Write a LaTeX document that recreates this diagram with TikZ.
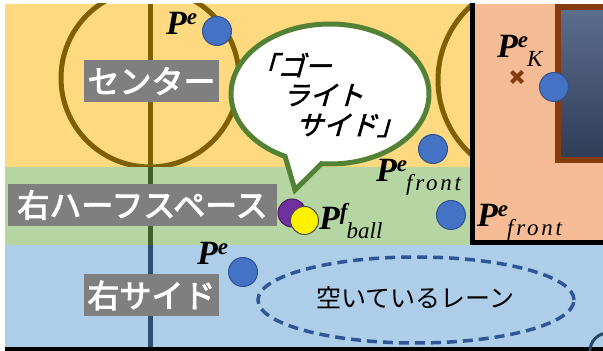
\documentclass[tikz,border=0pt]{standalone}
\usepackage{fontspec}
\newfontfamily\jpfont{Noto Sans CJK JP}
\newfontfamily\jpzone[FakeBold=3]{Noto Sans CJK JP}
\newfontfamily\jpslant[FakeSlant=0.28, FakeBold=2]{Noto Sans CJK JP}
\newfontfamily\tmsfont{Liberation Serif}
\definecolor{fyellow}{HTML}{FFD97F}
\definecolor{fgreen}{HTML}{B5D6A3}
\definecolor{fblue}{HTML}{ADCDE9}
\definecolor{forange}{HTML}{F5BB95}
\definecolor{lbrown}{HTML}{7F6000}
\definecolor{lgreen}{HTML}{3F5E2A}
\definecolor{lblue}{HTML}{2E4E6E}
\definecolor{goalbrown}{HTML}{843C0C}
\definecolor{goaltop}{HTML}{5D6E8E}
\definecolor{goalbot}{HTML}{2F3C56}
\definecolor{dotblue}{HTML}{4472C4}
\definecolor{dotedge}{HTML}{2F528F}
\definecolor{bubgreen}{HTML}{548235}
\definecolor{lanedash}{HTML}{2F5597}
\definecolor{zonegray}{HTML}{7F7F7F}
\definecolor{ppurple}{HTML}{7030A0}
\newcommand{\pname}[2]{{\tmsfont\itshape\fontsize{34}{34}\selectfont\bfseries P\raisebox{10pt}{\fontsize{23}{23}\selectfont #1}\kern-1pt\raisebox{-9pt}{\mdseries\fontsize{23}{23}\selectfont #2}}}
\tikzset{
  zone/.style={fill=zonegray, text=white, inner sep=0pt, minimum height=42pt,
    font=\jpzone\fontsize{32}{32}\selectfont},
  fieldline/.style={line width=5pt},
  player/.style={circle, fill=dotblue, draw=dotedge, line width=1pt, minimum size=29pt, inner sep=0pt},
  lbl/.style={anchor=base west, inner sep=0pt},
  bubble/.style={fill=white, draw=bubgreen, line width=5pt, line join=miter},
  bubtext/.style={inner sep=0pt, font=\jpslant\fontsize{27}{27}\selectfont},
  crossline/.style={draw=goalbrown, line width=4pt},
}
\begin{document}
\begin{tikzpicture}[x=1pt,y=1pt]
\useasboundingbox (0,0) rectangle (603,351);
\fill[white] (0,0) rectangle (603,351);
\begin{scope}
  \clip (5,0) rectangle (603,347);
  % bands
  \fill[fyellow] (5,184) rectangle (603,347);
  \fill[fgreen] (5,106) rectangle (603,184);
  \fill[fblue] (5,3.5) rectangle (603,106);
  \fill[black] (5,0) rectangle (603,3.5);
  % centre line
  \draw[fieldline, lbrown] (150.5,347) -- (150.5,184);
  \draw[fieldline, lgreen] (150.5,184) -- (150.5,106);
  \draw[fieldline, lblue] (150.5,106) -- (150.5,3.5);
  % centre circle and penalty arc
  \begin{scope}
    \clip (5,184) rectangle (470,347);
    \draw[fieldline, lbrown] (150,273) circle[radius=89];
    \draw[fieldline, lbrown] (538,271) circle[radius=100];
  \end{scope}
  % corner arc
  \draw[line width=3pt, lblue!90!black] (590,0) arc[start angle=180, end angle=90, radius=18];
  % penalty box
  \fill[forange] (472.5,108.5) rectangle (603,347);
  \draw[line width=5pt, black] (472.5,350) -- (472.5,108.5) -- (606,108.5);
  % goal
  \draw[line width=6pt, draw=goalbrown, top color=goaltop, bottom color=goalbot] (558,191) rectangle (612,344);
\end{scope}
% zone labels
\node[zone, minimum width=135pt] (center) at (151.5,270) {センター};
\node[zone, minimum width=269pt] (half) at (142.5,146) {右ハーフスペース};
\node[zone, minimum width=135pt] (side) at (151.5,55.5) {右サイド};
% speech bubble
\draw[bubble] ([shift={(265:99 and 70)}]330,257) arc[start angle=265, end angle=603, x radius=99, y radius=70] -- (295,161) -- cycle;
\node[bubtext] (b1) at (291,286) {「ゴー};
\node[bubtext] (b2) at (323,256) {ライト};
\node[bubtext] (b3) at (350,225.5) {サイド」};
% empty lane
\draw[line width=3.5pt, lanedash, dash pattern=on 10pt off 6pt] (416,51) ellipse[x radius=158, y radius=43];
\node[inner sep=0pt, font=\jpfont\fontsize{25}{25}\selectfont] (lane) at (415,53) {空いているレーン};
% cross at K
\coordinate (kx) at (517,274);
\draw[crossline] ([shift={(-5.5,-5.5)}]kx) -- ([shift={(5.5,5.5)}]kx);
\draw[crossline] ([shift={(-5.5,5.5)}]kx) -- ([shift={(5.5,-5.5)}]kx);
% players
\node[player] (pe1) at (217,320) {};
\node[player] (pk) at (554,264) {};
\node[player] (pf1) at (433,202) {};
\node[player] (pf2) at (451,136) {};
\node[player] (pe2) at (243,79) {};
\node[player, fill=ppurple, draw=ppurple!60!black, minimum size=28pt] (pp) at (292,138) {};
\node[player, fill=yellow, draw=black!70, minimum size=28pt] (ball) at (304.5,130.5) {};
% labels
\node[lbl] (lpe1) at (166,316) {\pname{e}{}};
\node[lbl] (lpk) at (497,293) {\pname{e}{K}};
\node[lbl] (lpf1) at (376,169) {\pname{e}{\addfontfeature{LetterSpace=12}front}};
\node[lbl] (lpf2) at (477,124) {\pname{e}{\addfontfeature{LetterSpace=12}front}};
\node[lbl] (lball) at (319,121) {\pname{f}{ball}};
\node[lbl] (lpe2) at (197,86) {\pname{e}{}};
\end{tikzpicture}
\end{document}
